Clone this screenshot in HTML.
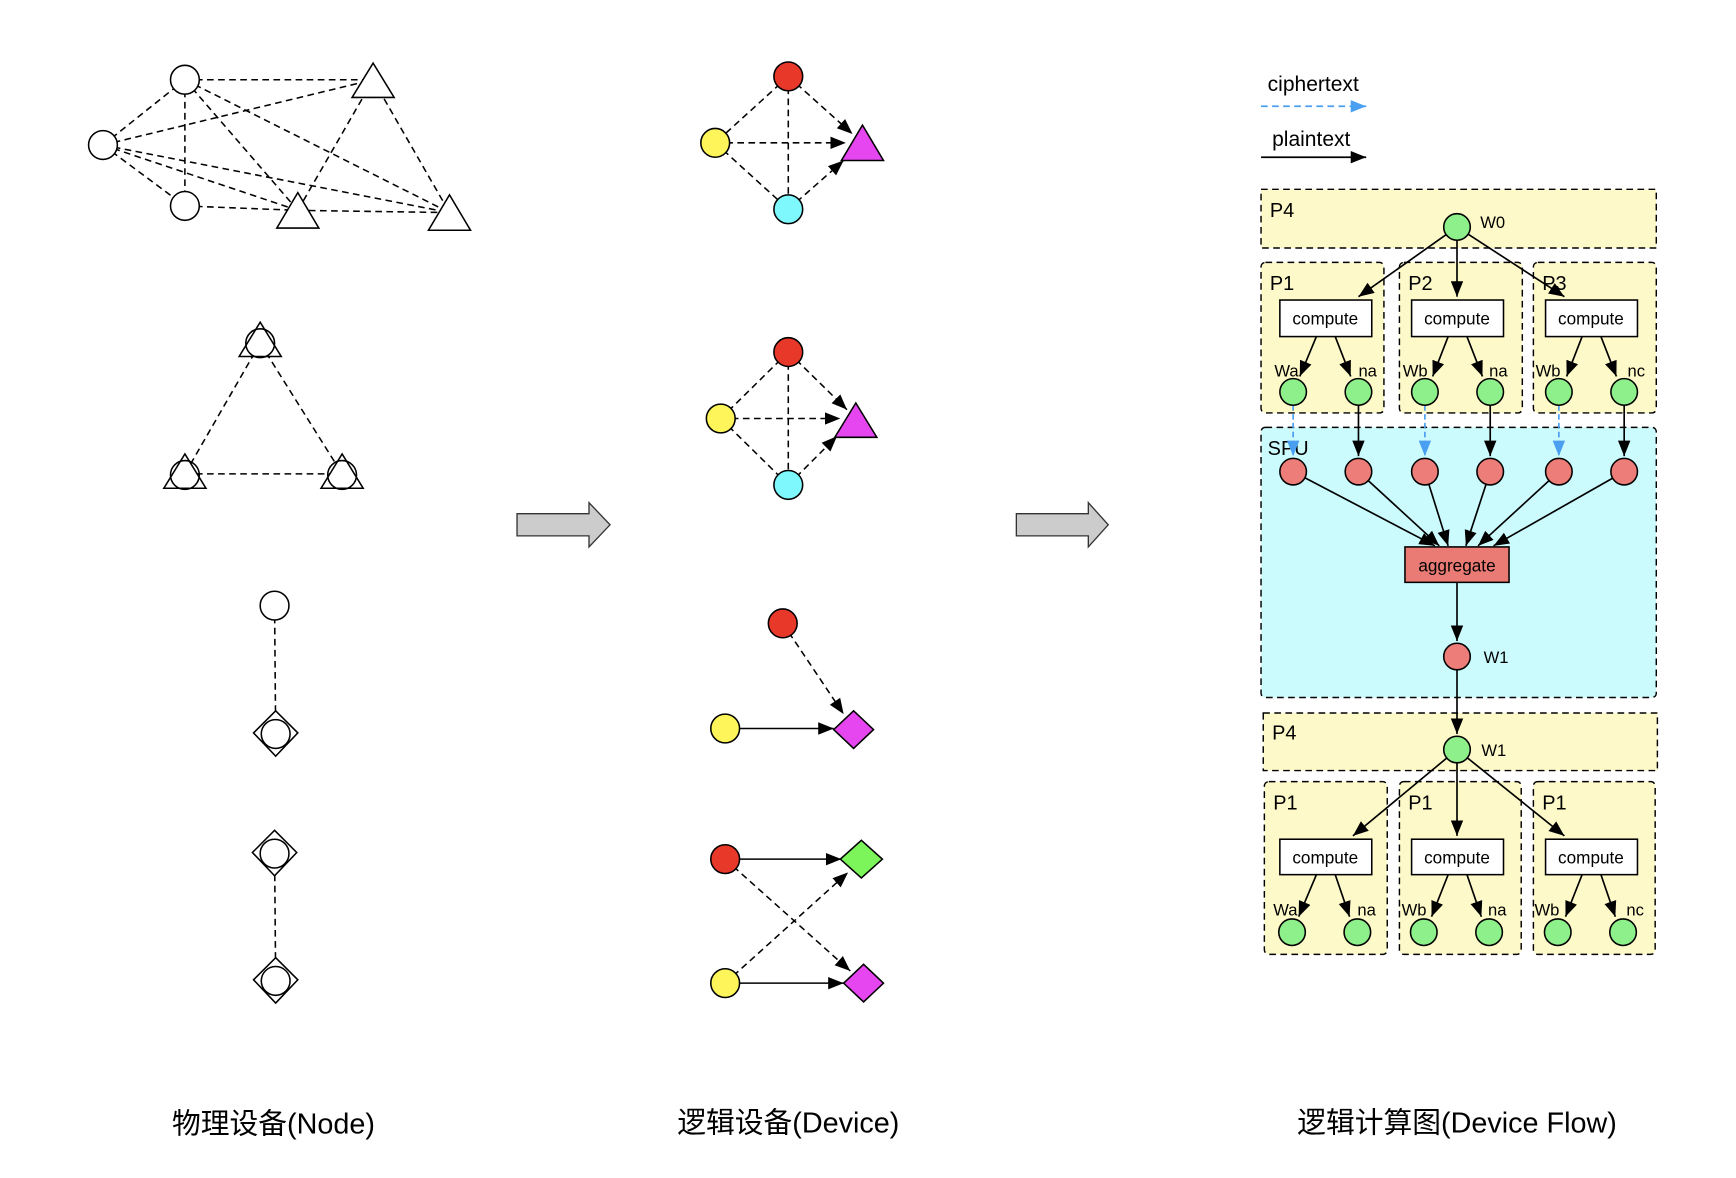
<!DOCTYPE html>
<html><head><meta charset="utf-8"><style>html,body{margin:0;padding:0;background:#fff}svg{display:block}</style></head><body>
<svg width="1736" height="1178" viewBox="0 0 1568 1064" preserveAspectRatio="none" xmlns="http://www.w3.org/2000/svg" font-family="Liberation Sans, Noto Sans CJK SC, sans-serif">
<defs>
<marker id="a" viewBox="0 0 10 10" refX="10" refY="5" markerWidth="14" markerHeight="14" orient="auto" markerUnits="userSpaceOnUse"><path d="M0,1L10,5L0,9z" fill="#000"/></marker>
<marker id="bl" viewBox="0 0 10 10" refX="10" refY="5" markerWidth="14" markerHeight="14" orient="auto" markerUnits="userSpaceOnUse"><path d="M0,1L10,5L0,9z" fill="#4a9ff0"/></marker>
</defs>
<g stroke="#000" stroke-width="1.4" fill="none" stroke-dasharray="6,4">
<line x1="167" y1="72" x2="337" y2="72"/><line x1="93" y1="131" x2="167" y2="72"/><line x1="93" y1="131" x2="337" y2="72"/>
<line x1="93" y1="131" x2="167" y2="186"/><line x1="93" y1="131" x2="269" y2="190"/><line x1="93" y1="131" x2="406" y2="192"/>
<line x1="167" y1="72" x2="167" y2="186"/><line x1="167" y1="72" x2="269" y2="190"/><line x1="167" y1="72" x2="406" y2="192"/>
<line x1="167" y1="186" x2="269" y2="190"/><line x1="269" y1="190" x2="337" y2="72"/><line x1="337" y1="72" x2="406" y2="192"/><line x1="269" y1="190" x2="406" y2="192"/>
<line x1="235" y1="310" x2="167" y2="428"/><line x1="235" y1="310" x2="309" y2="428"/><line x1="167" y1="428" x2="309" y2="428"/>
<line x1="248" y1="547" x2="249" y2="662"/><line x1="248" y1="770" x2="249" y2="885"/>
</g>
<g stroke="#000" stroke-width="1.4" fill="#fff">
<circle cx="167" cy="72" r="13"/><circle cx="93" cy="131" r="13"/><circle cx="167" cy="186" r="13"/>
<path d="M337,57L356,88L318,88z"/><path d="M269,174L288,206L250,206z"/><path d="M406,176L425,208L387,208z"/>
<path d="M235,291L254,322L216,322z"/><circle cx="235" cy="310" r="13" fill="none"/>
<path d="M167,410L186,441L148,441z"/><circle cx="167" cy="429" r="13" fill="none"/>
<path d="M309,410L328,441L290,441z"/><circle cx="309" cy="429" r="13" fill="none"/>
<circle cx="248" cy="547" r="13"/>
<path d="M249,642L269,662L249,683L229,662z"/><circle cx="249" cy="663" r="13" fill="none"/>
<path d="M248,750L268,770L248,791L228,770z"/><circle cx="248" cy="771" r="13" fill="none"/>
<path d="M249,865L269,885L249,906L229,885z"/><circle cx="249" cy="886" r="13" fill="none"/>
</g>
<g fill="#ccc" stroke="#333" stroke-width="1.2">
<path d="M467,464L532,464L532,454L551,474L532,494L532,484L467,484z"/>
<path d="M918,464L983,464L983,454L1001,474L983,494L983,484L918,484z"/>
</g>
<g stroke="#000" stroke-width="1.4" fill="none" stroke-dasharray="6,4">
<line x1="712" y1="69" x2="646" y2="129"/><line x1="646" y1="129" x2="712" y2="189"/><line x1="712" y1="69" x2="712" y2="189"/>
<line x1="712" y1="69" x2="770" y2="121" marker-end="url(#a)"/><line x1="646" y1="129" x2="764" y2="129" marker-end="url(#a)"/><line x1="712" y1="189" x2="762" y2="145" marker-end="url(#a)"/>
<line x1="712" y1="318" x2="651" y2="378"/><line x1="651" y1="378" x2="712" y2="438"/><line x1="712" y1="318" x2="712" y2="438"/>
<line x1="712" y1="318" x2="765" y2="370" marker-end="url(#a)"/><line x1="651" y1="378" x2="759" y2="378" marker-end="url(#a)"/><line x1="712" y1="438" x2="756" y2="394" marker-end="url(#a)"/>
<line x1="707" y1="563" x2="762" y2="645" marker-end="url(#a)"/>
<line x1="655" y1="776" x2="768" y2="877" marker-end="url(#a)"/><line x1="655" y1="888" x2="766" y2="788" marker-end="url(#a)"/>
</g>
<g stroke="#000" stroke-width="1.4">
<line x1="655" y1="658" x2="753" y2="658" marker-end="url(#a)"/>
<line x1="655" y1="776" x2="760" y2="776" marker-end="url(#a)"/>
<line x1="655" y1="888" x2="762" y2="888" marker-end="url(#a)"/>
</g>
<g stroke="#000" stroke-width="1.4">
<circle cx="712" cy="69" r="13" fill="#e8382a"/><circle cx="646" cy="129" r="13" fill="#fdf55a"/><circle cx="712" cy="189" r="13" fill="#7ef8fc"/>
<path d="M779,113L798,145L760,145z" fill="#e646f0"/>
<circle cx="712" cy="318" r="13" fill="#e8382a"/><circle cx="651" cy="378" r="13" fill="#fdf55a"/><circle cx="712" cy="438" r="13" fill="#7ef8fc"/>
<path d="M773,364L792,395L754,395z" fill="#e646f0"/>
<circle cx="707" cy="563" r="13" fill="#e8382a"/><circle cx="655" cy="658" r="13" fill="#fdf55a"/>
<path d="M771,642L789,659L771,676L753,659z" fill="#e646f0"/>
<circle cx="655" cy="776" r="13" fill="#e8382a"/><circle cx="655" cy="888" r="13" fill="#fdf55a"/>
<path d="M778,759L797,776L778,793L759,776z" fill="#7cf55a"/>
<path d="M780,871L798,888L780,905L762,888z" fill="#e646f0"/>
</g>
<g font-size="26" text-anchor="middle" fill="#000">
<text x="247" y="1024">物理设备(Node)</text><text x="712" y="1023">逻辑设备(Device)</text><text x="1316" y="1023">逻辑计算图(Device Flow)</text>
</g>
<g font-size="19"><text x="1145" y="82">ciphertext</text><text x="1149" y="132">plaintext</text></g>
<line x1="1139" y1="96" x2="1234" y2="96" stroke="#4a9ff0" stroke-width="1.6" stroke-dasharray="6,4" marker-end="url(#bl)"/>
<line x1="1139" y1="142" x2="1234" y2="142" stroke="#000" stroke-width="1.6" marker-end="url(#a)"/>
<g stroke="#000" stroke-width="1.3" stroke-dasharray="6,4">
<rect x="1139" y="171" width="357" height="53" fill="#fdf9c8"/>
<rect x="1139" y="237" width="111" height="136" rx="4" fill="#fdf9c8"/>
<rect x="1264" y="237" width="111" height="136" rx="4" fill="#fdf9c8"/>
<rect x="1385" y="237" width="111" height="136" rx="4" fill="#fdf9c8"/>
<rect x="1139" y="386" width="357" height="244" rx="4" fill="#ccfbfe"/>
<rect x="1141" y="644" width="356" height="52" fill="#fdf9c8"/>
<rect x="1142" y="706" width="111" height="156" rx="4" fill="#fdf9c8"/>
<rect x="1264" y="706" width="110" height="156" rx="4" fill="#fdf9c8"/>
<rect x="1385" y="706" width="110" height="156" rx="4" fill="#fdf9c8"/>
</g>
<g font-size="18"><text x="1147" y="196">P4</text><text x="1147" y="262">P1</text><text x="1272" y="262">P2</text><text x="1393" y="262">P3</text><text x="1145" y="411">SPU</text><text x="1149" y="668">P4</text><text x="1150" y="731">P1</text><text x="1272" y="731">P1</text><text x="1393" y="731">P1</text></g>
<g stroke="#000" stroke-width="1.5">
<line x1="1316" y1="205" x2="1227" y2="268" marker-end="url(#a)"/><line x1="1316" y1="205" x2="1316" y2="268" marker-end="url(#a)"/><line x1="1316" y1="205" x2="1413" y2="268" marker-end="url(#a)"/>
<line x1="1316" y1="677" x2="1222" y2="755" marker-end="url(#a)"/><line x1="1316" y1="677" x2="1316" y2="755" marker-end="url(#a)"/><line x1="1316" y1="677" x2="1413" y2="755" marker-end="url(#a)"/>
<line x1="1189" y1="304" x2="1174" y2="340" marker-end="url(#a)"/><line x1="1206" y1="304" x2="1220" y2="340" marker-end="url(#a)"/>
<line x1="1308" y1="304" x2="1294" y2="340" marker-end="url(#a)"/><line x1="1325" y1="304" x2="1339" y2="340" marker-end="url(#a)"/>
<line x1="1429" y1="304" x2="1415" y2="340" marker-end="url(#a)"/><line x1="1446" y1="304" x2="1460" y2="340" marker-end="url(#a)"/>
<line x1="1189" y1="790" x2="1173" y2="828" marker-end="url(#a)"/><line x1="1206" y1="790" x2="1219" y2="828" marker-end="url(#a)"/>
<line x1="1308" y1="790" x2="1293" y2="828" marker-end="url(#a)"/><line x1="1325" y1="790" x2="1338" y2="828" marker-end="url(#a)"/>
<line x1="1429" y1="790" x2="1414" y2="828" marker-end="url(#a)"/><line x1="1446" y1="790" x2="1459" y2="828" marker-end="url(#a)"/>
<line x1="1227" y1="366" x2="1227" y2="412" marker-end="url(#a)"/><line x1="1346" y1="366" x2="1346" y2="412" marker-end="url(#a)"/><line x1="1467" y1="366" x2="1467" y2="412" marker-end="url(#a)"/>
<line x1="1168" y1="426" x2="1296" y2="493" marker-end="url(#a)"/><line x1="1227" y1="426" x2="1300" y2="493" marker-end="url(#a)"/><line x1="1287" y1="426" x2="1308" y2="493" marker-end="url(#a)"/>
<line x1="1346" y1="426" x2="1324" y2="493" marker-end="url(#a)"/><line x1="1408" y1="426" x2="1335" y2="493" marker-end="url(#a)"/><line x1="1467" y1="426" x2="1349" y2="493" marker-end="url(#a)"/>
<line x1="1316" y1="526" x2="1316" y2="579" marker-end="url(#a)"/><line x1="1316" y1="605" x2="1316" y2="663" marker-end="url(#a)"/>
</g>
<g stroke="#4a9ff0" stroke-width="1.5" stroke-dasharray="5,3">
<line x1="1168" y1="366" x2="1168" y2="412" marker-end="url(#bl)"/><line x1="1287" y1="366" x2="1287" y2="412" marker-end="url(#bl)"/><line x1="1408" y1="366" x2="1408" y2="412" marker-end="url(#bl)"/>
</g>
<g stroke="#000" stroke-width="1.4" fill="#fff">
<rect x="1156" y="271" width="83" height="33"/><rect x="1275" y="271" width="83" height="33"/><rect x="1396" y="271" width="83" height="33"/>
<rect x="1156" y="758" width="83" height="32"/><rect x="1275" y="758" width="83" height="32"/><rect x="1396" y="758" width="83" height="32"/>
<rect x="1269" y="494" width="94" height="32" fill="#e97b74"/>
</g>
<g stroke="#000" stroke-width="1.4" fill="#8ef08a">
<circle cx="1316" cy="205" r="12"/><circle cx="1316" cy="677" r="12"/>
<circle cx="1168" cy="354" r="12"/><circle cx="1227" cy="354" r="12"/><circle cx="1287" cy="354" r="12"/><circle cx="1346" cy="354" r="12"/><circle cx="1408" cy="354" r="12"/><circle cx="1467" cy="354" r="12"/>
<circle cx="1167" cy="842" r="12"/><circle cx="1226" cy="842" r="12"/><circle cx="1286" cy="842" r="12"/><circle cx="1345" cy="842" r="12"/><circle cx="1407" cy="842" r="12"/><circle cx="1466" cy="842" r="12"/>
</g>
<g stroke="#000" stroke-width="1.4" fill="#ec7d78">
<circle cx="1168" cy="426" r="12"/><circle cx="1227" cy="426" r="12"/><circle cx="1287" cy="426" r="12"/><circle cx="1346" cy="426" r="12"/><circle cx="1408" cy="426" r="12"/><circle cx="1467" cy="426" r="12"/>
<circle cx="1316" cy="593" r="12"/>
</g>
<g font-size="15.5" text-anchor="middle"><text x="1197" y="293">compute</text><text x="1316" y="293">compute</text><text x="1437" y="293">compute</text>
<text x="1197" y="780">compute</text><text x="1316" y="780">compute</text><text x="1437" y="780">compute</text><text x="1316" y="516">aggregate</text></g>
<g font-size="15"><text x="1337" y="206">W0</text><text x="1340" y="599">W1</text><text x="1338" y="683">W1</text>
<text x="1151" y="340">Wa</text><text x="1227" y="340">na</text><text x="1267" y="340">Wb</text><text x="1345" y="340">na</text><text x="1387" y="340">Wb</text><text x="1470" y="340">nc</text>
<text x="1150" y="827">Wa</text><text x="1226" y="827">na</text><text x="1266" y="827">Wb</text><text x="1344" y="827">na</text><text x="1386" y="827">Wb</text><text x="1469" y="827">nc</text></g>
</svg>
</body></html>
